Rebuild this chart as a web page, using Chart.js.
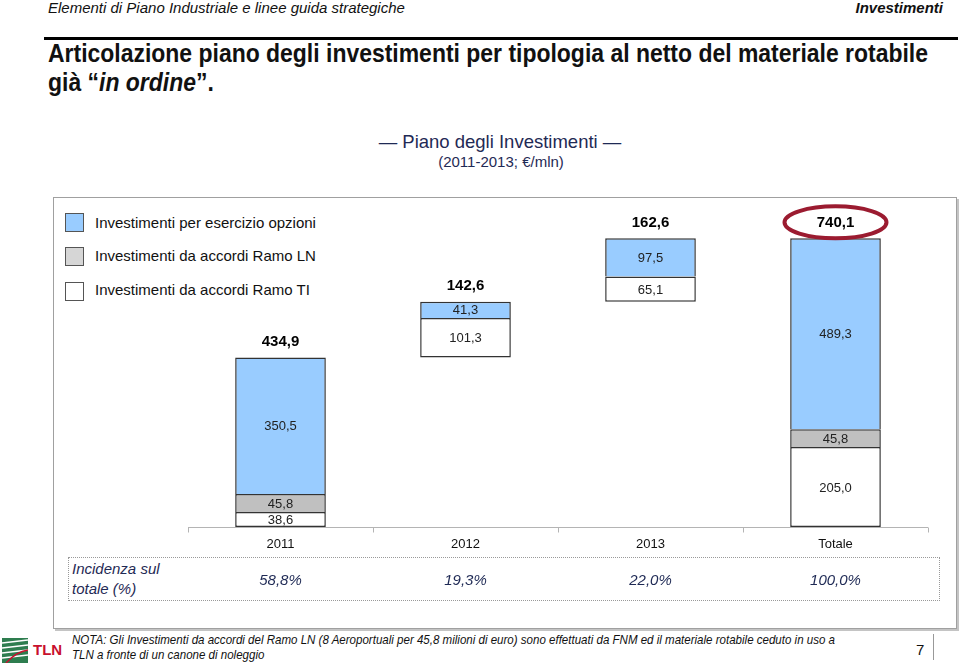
<!DOCTYPE html>
<html lang="it">
<head>
<meta charset="UTF-8">
<title>Piano degli Investimenti</title>
<script src="https://cdn.jsdelivr.net/npm/chart.js"></script>
<style>
    body { margin: 0; background: #fff; font-family: "Liberation Sans", Arial, sans-serif; color: #111; }
    #page { position: relative; width: 960px; height: 665px; overflow: hidden; }
    .abs { position: absolute; white-space: nowrap; }
    .navy { color: #1f2a55; }
    .legend-box { position: absolute; width: 17px; height: 17px; border: 1px solid #555; }
    .legend-text { position: absolute; font-size: 15px; line-height: 18px; }
    .fit { transform-origin: 0 0; }
</style>
</head>
<body>
<div id="page">
    <!-- header -->
    <div class="abs" style="left:48px; top:-1px; font-size:15px; font-style:italic;">Elementi di Piano Industriale e linee guida strategiche</div>
    <div class="abs" style="right:17px; top:-1px; font-size:15px; font-style:italic; font-weight:bold;">Investimenti</div>
    <div class="abs" style="left:44px; top:37px; width:914px; height:3px; background:#000;"></div>

    <div id="title" class="abs fit" data-w="880" style="left:48px; top:39px; font-size:25px; line-height:29px; font-weight:bold;">Articolazione piano degli investimenti per tipologia al netto del materiale rotabile<br>già “<i>in ordine</i>”.</div>

    <div class="abs navy" style="left:0; width:1000px; top:131px; text-align:center; font-size:18.5px;">— Piano degli Investimenti —</div>
    <div class="abs navy" style="left:0; width:1002px; top:153px; text-align:center; font-size:15px;">(2011-2013; €/mln)</div>

    <!-- panel -->
    <div class="abs" style="left:53px; top:197px; width:902px; height:430px; border:1px solid #a0a0a0; box-shadow:2px 2px 0 #c4c4c4;"></div>

    <!-- legend -->
    <div class="legend-box" style="left:65px; top:213px; background:#99ccff;"></div>
    <div class="legend-text" style="left:95px; top:214px;">Investimenti per esercizio opzioni</div>
    <div class="legend-box" style="left:65px; top:247px; background:#d6d6d6;"></div>
    <div class="legend-text" style="left:95px; top:247px;">Investimenti da accordi Ramo LN</div>
    <div class="legend-box" style="left:65px; top:282px; background:#fff;"></div>
    <div class="legend-text" style="left:95px; top:281px;">Investimenti da accordi Ramo TI</div>

    <!-- incidenza box -->
    <div class="abs" style="left:68px; top:557px; width:870px; height:42px; border:1px dotted #999;"></div>
    <div class="abs navy" style="left:72px; top:559px; font-size:15px; line-height:20px; font-style:italic;">Incidenza sul<br>totale (%)</div>

    <canvas id="chart" class="abs" style="left:0; top:190px;" width="960" height="420"></canvas>

    <!-- footer -->
    <svg class="abs" style="left:2px; top:638px;" width="26" height="25" viewBox="0 0 26 25">
        <rect x="0" y="0" width="26" height="25" fill="#2e7d4f"/>
        <path d="M0 5 L26 2 M0 10 L26 7 M0 15 L26 12 M0 20 L26 17" stroke="#fff" stroke-width="1.6"/>
        <path d="M4 25 Q14 14 26 12" stroke="#c8102e" stroke-width="1.4" fill="none"/>
    </svg>
    <div class="abs" style="left:33px; top:641px; font-size:15px; font-weight:bold; color:#c8102e;">TLN</div>
    <div class="abs fit" data-w="763" style="left:72px; top:632px; font-size:13px; line-height:15px; font-style:italic;">NOTA: Gli Investimenti da accordi del Ramo LN (8 Aeroportuali per 45,8 milioni di euro) sono effettuati da FNM ed il materiale rotabile ceduto in uso a<br>TLN a fronte di un canone di noleggio</div>
    <div class="abs" style="left:916px; top:641px; font-size:15px;">7</div>
    <div class="abs" style="left:933px; top:634px; width:1px; height:26px; background:#999;"></div>
</div>

<script>
    // data (€/mln)
    const categories = ['2011', '2012', '2013', 'Totale'];
    const ramoTI = [38.6, 101.3, 65.1, 205.0];
    const ramoLN = [45.8, null, null, 45.8];
    const opzioni = [350.5, 41.3, 97.5, 489.3];
    const totals = [434.9, 142.6, 162.6, 740.1];
    const floating = [false, true, true, false]; // waterfall steps
    const incidenza = [58.8, 19.3, 22.0, 100.0];

    // squeeze condensed text blocks to the width they have in the slide
    document.querySelectorAll('.fit').forEach(el => {
        const w = el.getBoundingClientRect().width;
        el.style.transform = 'scaleX(' + (Number(el.dataset.w) / w) + ')';
    });

    // invisible base for the waterfall steps
    const base = totals.map((t, i) => floating[i] ? totals.slice(0, i).reduce((a, b) => a + b, 0) : 0);

    const fmt = v => v.toFixed(1).replace('.', ',');
    const FONT = '"Liberation Sans", Arial, sans-serif';

    // labels, axis line, percentages, ellipse
    const decorations = {
        id: 'decorations',
        afterDatasetsDraw(chart) {
            const ctx = chart.ctx;
            const x = chart.scales.x, y = chart.scales.y;
            const area = chart.chartArea;
            ctx.save();

            // axis
            const y0 = Math.round(y.getPixelForValue(0)) + 0.5;
            ctx.strokeStyle = '#b4b4b4';
            ctx.lineWidth = 1;
            ctx.beginPath();
            ctx.moveTo(area.left, y0);
            ctx.lineTo(area.right, y0);
            const step = (area.right - area.left) / categories.length;
            for (let i = 0; i <= categories.length; i++) {
                const tx = Math.round(area.left + i * step) + 0.5;
                ctx.moveTo(tx, y0);
                ctx.lineTo(tx, y0 + 5);
            }
            ctx.stroke();

            ctx.textAlign = 'center';
            ctx.textBaseline = 'middle';

            // segment labels
            ctx.font = '13px ' + FONT;
            ctx.fillStyle = '#222';
            for (let d = 1; d < chart.data.datasets.length; d++) {
                const meta = chart.getDatasetMeta(d);
                meta.data.forEach((bar, i) => {
                    const v = chart.data.datasets[d].data[i];
                    if (v == null) return;
                    ctx.fillText(fmt(v), bar.x, (bar.y + bar.base) / 2 + 1);
                });
            }

            // totals
            ctx.font = 'bold 15px ' + FONT;
            ctx.fillStyle = '#000';
            totals.forEach((t, i) => {
                const top = y.getPixelForValue(base[i] + t);
                ctx.fillText(fmt(t), x.getPixelForValue(i), top - 16);
            });

            // ellipse on grand total
            const last = categories.length - 1;
            const ex = x.getPixelForValue(last);
            const ey = y.getPixelForValue(totals[last]) - 16;
            ctx.strokeStyle = '#9b1b30';
            ctx.lineWidth = 4;
            ctx.beginPath();
            ctx.ellipse(ex, ey, 51, 16, 0, 0, Math.PI * 2);
            ctx.stroke();

            // category labels
            ctx.font = '13px ' + FONT;
            ctx.fillStyle = '#111';
            categories.forEach((c, i) => ctx.fillText(c, x.getPixelForValue(i), y0 + 17));

            // incidenza sul totale
            ctx.font = 'italic 15px ' + FONT;
            ctx.fillStyle = '#1f2a55';
            incidenza.forEach((p, i) => ctx.fillText(fmt(p) + '%', x.getPixelForValue(i), y0 + 53));

            ctx.restore();
        }
    };

    new Chart(document.getElementById('chart'), {
        type: 'bar',
        data: {
            labels: categories,
            datasets: [
                { label: 'base', data: base, backgroundColor: 'rgba(0,0,0,0)', borderWidth: 0 },
                { label: 'Investimenti da accordi Ramo TI', data: ramoTI, backgroundColor: '#ffffff',
                  borderColor: '#333', borderWidth: 1.5, borderSkipped: false },
                { label: 'Investimenti da accordi Ramo LN', data: ramoLN, backgroundColor: '#c0c0c0',
                  borderColor: '#333', borderWidth: 1.5 },
                { label: 'Investimenti per esercizio opzioni', data: opzioni, backgroundColor: '#99ccff',
                  borderColor: '#333', borderWidth: 1.5 }
            ]
        },
        options: {
            responsive: false,
            animation: false,
            layout: { padding: { left: 188, right: 32, top: 25, bottom: 83 } },
            datasets: { bar: { categoryPercentage: 1, barPercentage: 0.49 } },
            scales: {
                x: { stacked: true, display: false },
                y: { stacked: true, display: false, min: 0, max: 800 }
            },
            plugins: { legend: { display: false }, tooltip: { enabled: false } }
        },
        plugins: [decorations]
    });
</script>
</body>
</html>
